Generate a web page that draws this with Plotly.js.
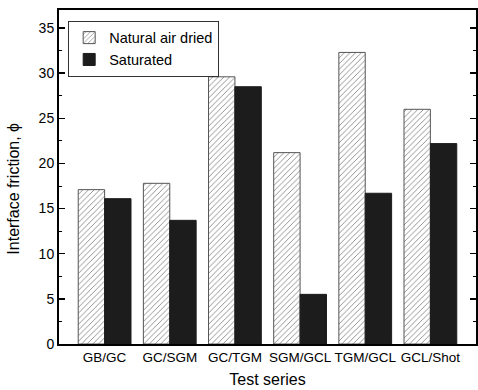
<!DOCTYPE html>
<html><head><meta charset="utf-8">
<script src="https://cdn.plot.ly/plotly-3.0.1.min.js"></script>
<style>body{margin:0;padding:0;background:#fff}</style>
</head><body>
<div id="chart" style="width:478px;height:390px"></div>
<script>
const categories = ["GB/GC", "GC/SGM", "GC/TGM", "SGM/GCL", "TGM/GCL", "GCL/Shot"];
const naturalAirDried = [17.1, 17.8, 29.6, 21.2, 32.3, 26.0];
const saturated = [16.1, 13.7, 28.5, 5.5, 16.7, 22.2];
const seriesNames = ["Natural air dried", "Saturated"];
const yTicks = [0, 5, 10, 15, 20, 25, 30, 35];
const yTitle = "Interface friction, \u03d5";

const font = "Arial, 'Liberation Sans', sans-serif";
const traces = [
  {
    type: "bar", name: seriesNames[0], x: categories, y: naturalAirDried,
    marker: {
      color: "#ffffff",
      pattern: {shape: "/", fgcolor: "#7a7a7a", bgcolor: "#ffffff", size: 4, solidity: 0.2, fillmode: "replace"},
      line: {color: "#555555", width: 1}
    }
  },
  {
    type: "bar", name: seriesNames[1], x: categories, y: saturated,
    marker: {color: "#1c1c1c", line: {color: "#1c1c1c", width: 1}}
  }
];
const layout = {
  width: 478, height: 390,
  margin: {l: 59, r: 2, t: 10, b: 46},
  paper_bgcolor: "#fff", plot_bgcolor: "#fff",
  barmode: "group", bargap: 0.19, bargroupgap: 0,
  font: {family: font, color: "#000", size: 14},
  showlegend: true,
  legend: {
    x: 0.022, y: 0.968, xanchor: "left", yanchor: "top",
    bordercolor: "#333", borderwidth: 1, bgcolor: "#fff",
    font: {family: font, size: 14.5, color: "#000"},
    tracegroupgap: 2
  },
  xaxis: {
    type: "category", range: [-0.7, 5.7], tickangle: 0,
    showline: true, linecolor: "#000", linewidth: 2, mirror: true,
    ticks: "", showgrid: false, zeroline: false,
    tickfont: {family: font, size: 13.5, color: "#000"},
    title: {text: "Test series", font: {family: font, size: 16, color: "#000"}, standoff: 10}
  },
  yaxis: {
    range: [0, 37], tickvals: yTicks, ticktext: yTicks.map(String),
    showline: true, linecolor: "#000", linewidth: 2, mirror: "ticks",
    ticks: "inside", ticklen: 6, tickwidth: 1.5, tickcolor: "#000",
    minor: {dtick: 2.5, ticks: "inside", ticklen: 3, tickwidth: 1, tickcolor: "#000"},
    showgrid: false, zeroline: false,
    tickfont: {family: font, size: 14, color: "#000"}
  },
  annotations: [{
    text: yTitle, xref: "paper", yref: "paper", x: -0.108, y: 0.465,
    xanchor: "center", yanchor: "middle", textangle: -90, showarrow: false,
    font: {family: font, size: 16, color: "#000"}
  }]
};
Plotly.newPlot("chart", traces, layout, {displayModeBar: false, staticPlot: true});
</script>
</body></html>
